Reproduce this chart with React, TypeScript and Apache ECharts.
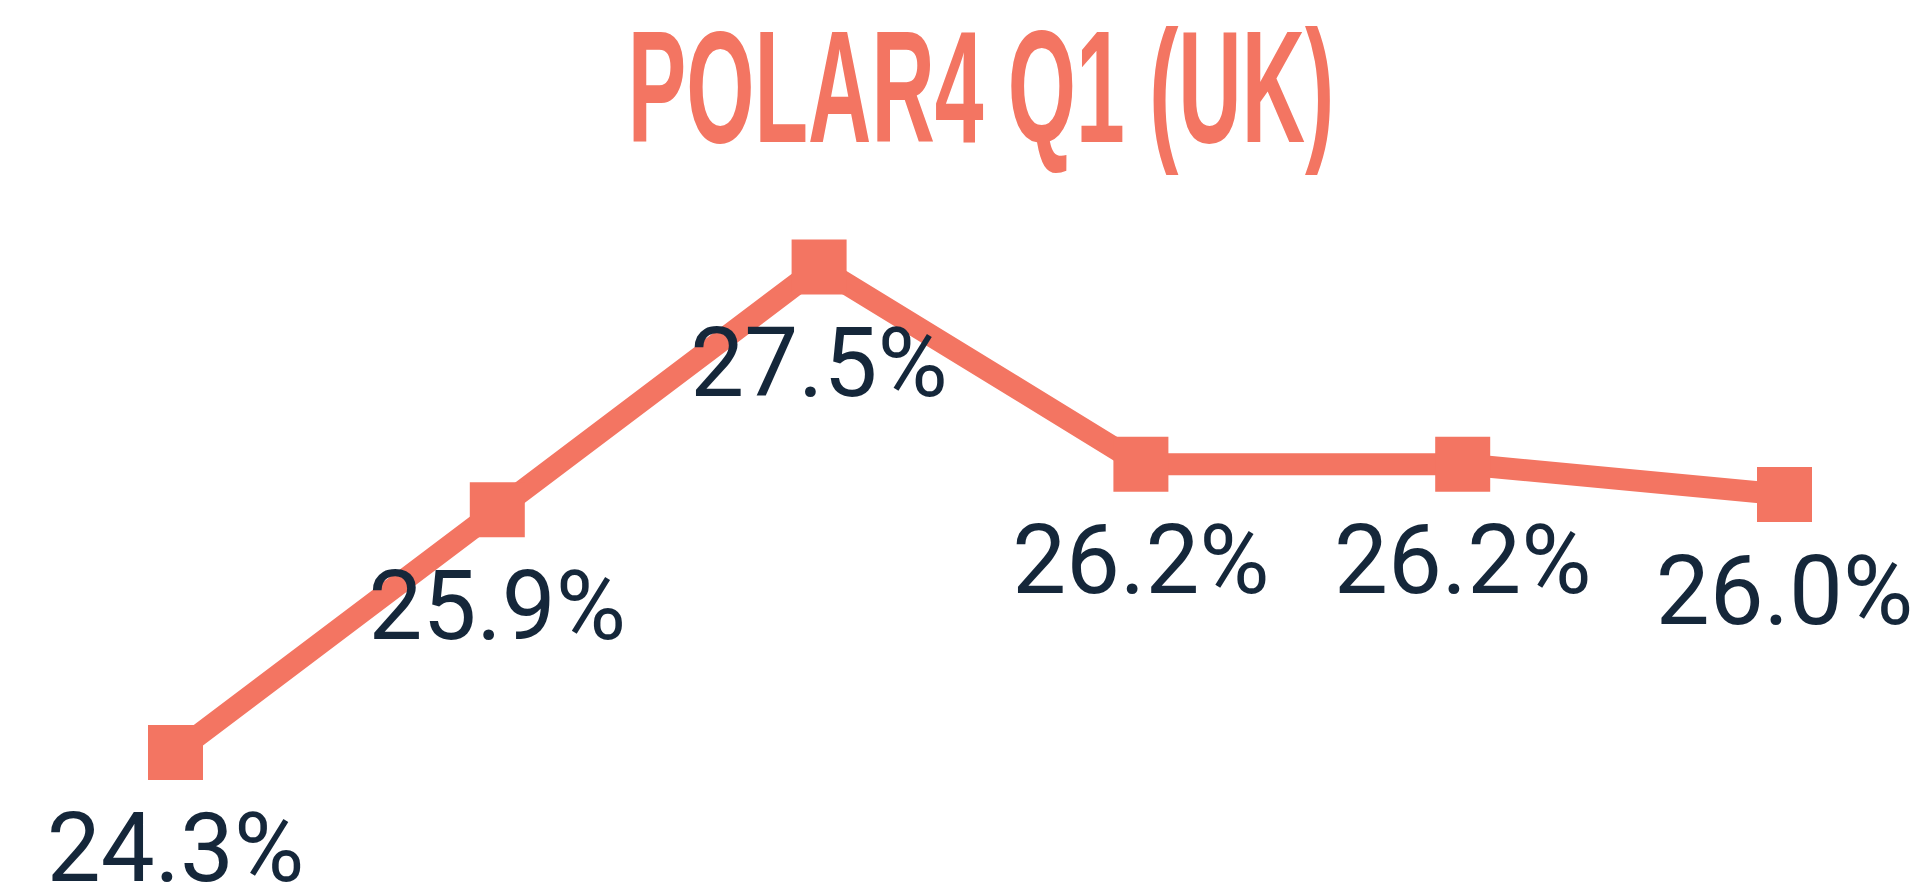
import React, { useEffect, useRef } from "react";
import * as echarts from "echarts";

const categories = ["1", "2", "3", "4", "5", "6"];
const values = [24.3, 25.9, 27.5, 26.2, 26.2, 26.0];
const titleText = "POLAR4 Q1 (UK)";

const ACCENT = "#f37562";
const LABEL = "#15273a";

export default function App() {
  const ref = useRef<HTMLDivElement>(null);
  useEffect(() => {
    if (!ref.current) return;
    const chart = echarts.init(ref.current, undefined, { renderer: "svg" });
    chart.setOption({
      animation: false,
      backgroundColor: "#ffffff",
      grid: { left: 175.5, right: 134.5, top: 191.2, bottom: 98 },
      xAxis: {
        type: "category",
        data: categories,
        boundaryGap: false,
        show: false,
      },
      yAxis: {
        type: "value",
        min: 24,
        max: 28,
        show: false,
        splitLine: { show: false },
      },
      graphic: [
        {
          type: "text",
          x: 981,
          y: 86,
          scaleX: 0.548,
          style: {
            text: titleText,
            fill: ACCENT,
            font: "bold 160px 'Liberation Sans', sans-serif",
            textAlign: "center",
            textVerticalAlign: "middle",
          },
        },
      ],
      series: [
        {
          type: "line",
          data: values,
          symbol: "rect",
          symbolSize: 55,
          lineStyle: { color: ACCENT, width: 22 },
          itemStyle: { color: ACCENT },
          label: {
            show: true,
            position: "inside",
            offset: [0, 96],
            formatter: (p: any) => p.value.toFixed(1) + "%",
            color: LABEL,
            fontFamily: "Roboto",
            fontSize: 96,
          },
          z: 2,
        },
      ],
    });
    return () => chart.dispose();
  }, []);
  return (
    <div
      ref={ref}
      style={{ position: "fixed", left: 0, top: 0, width: 1919, height: 896 }}
    />
  );
}
